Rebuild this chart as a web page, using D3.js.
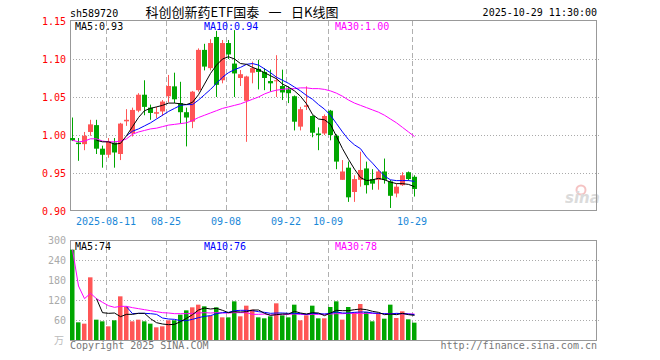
<!DOCTYPE html>
<html><head><meta charset="utf-8">
<script src="https://cdn.jsdelivr.net/npm/d3@7/dist/d3.min.js"></script>
<style>body{margin:0;background:#fff}svg{display:block}</style>
</head><body><svg id="c" width="660" height="360"></svg>
<script>
const dates = ["2025-08-01","2025-08-04","2025-08-05","2025-08-06","2025-08-07","2025-08-08","2025-08-11","2025-08-12","2025-08-13","2025-08-14","2025-08-15","2025-08-18","2025-08-19","2025-08-20","2025-08-21","2025-08-22","2025-08-25","2025-08-26","2025-08-27","2025-08-28","2025-08-29","2025-09-01","2025-09-02","2025-09-03","2025-09-04","2025-09-05","2025-09-08","2025-09-09","2025-09-10","2025-09-11","2025-09-12","2025-09-15","2025-09-16","2025-09-17","2025-09-18","2025-09-19","2025-09-22","2025-09-23","2025-09-24","2025-09-25","2025-09-26","2025-09-29","2025-09-30","2025-10-09","2025-10-10","2025-10-13","2025-10-14","2025-10-15","2025-10-16","2025-10-17","2025-10-20","2025-10-21","2025-10-22","2025-10-23","2025-10-24","2025-10-27","2025-10-28","2025-10-29"];
const open = [0.996,0.990,0.988,1.004,1.013,0.982,0.974,0.990,0.975,1.018,
 1.002,1.032,1.053,1.036,1.028,1.031,1.051,1.064,1.042,1.030,
 1.0175,1.059,1.112,1.088,1.129,1.072,1.121,1.094,1.075,1.045,
 1.082,1.087,1.083,1.071,1.071,1.0645,1.060,1.051,1.011,1.037,
 1.025,1.002,1.002,1.032,0.999,0.941,0.957,0.925,0.941,0.956,
 0.942,0.941,0.952,0.939,0.923,0.934,0.951,0.945];
const close = [0.993,0.988,0.999,1.014,0.982,0.974,0.992,0.977,1.015,1.020,
 1.033,1.053,1.037,1.029,1.030,1.044,1.0645,1.047,1.030,1.023,
 1.057,1.112,1.090,1.121,1.066,1.121,1.106,1.081,1.080,1.077,
 1.088,1.083,1.075,1.068,1.072,1.056,1.055,1.0175,1.034,1.039,
 1.003,1.000,1.025,1.000,0.965,0.952,0.918,0.942,0.954,0.934,
 0.936,0.952,0.941,0.920,0.932,0.947,0.942,0.929];
const high = [1.023,0.996,1.004,1.020,1.020,0.986,0.996,0.996,1.016,1.034,
 1.036,1.055,1.072,1.040,1.037,1.046,1.079,1.082,1.070,1.036,
 1.058,1.114,1.120,1.126,1.137,1.125,1.125,1.138,1.0855,1.078,
 1.0965,1.099,1.088,1.086,1.105,1.086,1.064,1.052,1.037,1.064,
 1.026,1.010,1.027,1.033,1.001,0.967,0.965,0.947,0.978,0.965,
 0.955,0.954,0.969,0.941,0.936,0.951,0.952,0.947];
const low = [0.992,0.966,0.980,0.999,0.975,0.957,0.970,0.957,0.967,1.012,
 0.998,1.030,1.026,1.020,1.022,1.025,1.043,1.042,1.015,0.985,
 1.009,1.057,1.085,1.085,1.050,1.068,1.100,1.050,1.0645,0.991,
 1.068,1.060,1.059,1.057,1.050,1.046,1.042,1.006,1.006,1.033,
 0.997,0.980,1.000,0.993,0.955,0.941,0.912,0.912,0.932,0.923,
 0.928,0.928,0.936,0.904,0.918,0.933,0.940,0.919];
const ma5 = [null,null,null,null,0.993,0.991,0.991,0.988,0.989,0.999,
 1.011,1.023,1.032,1.035,1.037,1.039,1.042,1.042,1.041,1.040,
 1.043,1.053,1.067,1.081,1.092,1.100,1.103,1.100,1.094,1.093,
 1.089,1.086,1.082,1.078,1.074,1.067,1.063,1.058,1.051,1.041,
 1.027,1.021,1.020,1.014,0.998,0.982,0.968,0.955,0.944,0.940,
 0.941,0.943,0.941,0.938,0.936,0.936,0.935,0.932];
const ma10 = [null,null,null,null,null,null,null,null,null,0.999,
 1.005,1.008,1.012,1.016,1.021,1.026,1.031,1.035,1.039,1.040,
 1.040,1.046,1.053,1.060,1.068,1.076,1.082,1.086,1.089,1.093,
 1.094,1.092,1.087,1.082,1.076,1.072,1.068,1.063,1.058,1.052,
 1.047,1.040,1.034,1.026,1.015,1.004,0.994,0.987,0.982,0.971,
 0.963,0.954,0.946,0.941,0.940,0.940,0.940,0.939];
const ma30 = [0.993,0.991,0.992,0.995,0.995,0.992,0.991,0.991,0.992,0.995,
 1.001,1.004,1.006,1.008,1.009,1.011,1.013,1.014,1.015,1.016,
 1.019,1.023,1.026,1.029,1.032,1.035,1.037,1.039,1.041,1.044,
 1.047,1.050,1.054,1.057,1.059,1.060,1.061,1.061,1.062,1.062,
 1.061,1.061,1.060,1.058,1.055,1.051,1.046,1.042,1.039,1.036,
 1.033,1.030,1.026,1.021,1.016,1.010,1.004,0.998];
const volume = [271,53,49,188,61,56,41,59,131,99,
 56,61,56,49,38,41,59,59,76,89,
 98,106,101,73,98,68,68,116,71,103,
 91,68,65,71,110,74,68,106,59,74,
 103,65,65,99,116,61,99,83,108,84,
 56,81,64,106,66,86,62,52];
const volMa5 = [null,null,null,null,124,82,80,81,70,77,
 77,80,80,64,52,48,46,47,55,65,
 76,90,96,93,95,89,82,85,84,85,
 90,90,80,74,76,78,78,86,81,78,
 82,81,73,81,89,88,88,91,93,91,
 86,83,76,78,76,80,76,74];
const volMa10 = [null,null,null,null,null,null,null,null,null,100,
 79,80,80,79,77,66,63,62,58,58,
 62,67,71,73,79,82,83,88,89,89,
 88,85,83,80,81,81,80,80,79,77,
 80,79,78,80,84,81,81,83,84,84,
 81,80,79,78,80,79,78,76];
const volMa30 = [271,162,124,140,124,113,103,98,101,101,
 97,94,91,88,85,82,81,79,79,79,
 80,81,82,81,82,81,81,82,82,82,
 77,77,78,75,76,76,77,78,77,76,
 77,77,77,78,79,79,80,80,80,80,
 80,79,79,79,79,79,78,78];
const priceTicks = [0.90,0.95,1.00,1.05,1.10,1.15];
const volTicks = [60,120,180,240,300];
const dateTicks = ["2025-08-11","2025-08-25","2025-09-08","2025-09-22","2025-10-09","2025-10-29"];
const dateLabels = ["2025-08-11","08-25","09-08","09-22","10-09","10-29"];

const svg = d3.select("#c");
const L = 70, R = 597, pT = 21, pB = 211, vT = 240, vB = 340;
const mono = "'DejaVu Sans Mono', monospace";
const RED = "#ff5656", GREEN = "#00a600";

const x = d3.scalePoint().domain(dates).range([72.5, 72.5 + 6 * (dates.length - 1)]);
const y = d3.scaleLinear().domain([0.90, 1.15]).range([pB, pT]);
const yv = d3.scaleLinear().domain([0, 300]).range([vB, vT]);

// header texts
svg.append("text").attr("x", L).attr("y", 17).attr("font-family", mono).attr("font-size", 10).attr("fill", "#000").text("sh589720");
svg.append("text").attr("x", 242).attr("y", 17).attr("text-anchor", "middle").style("white-space", "pre")
  .attr("font-family", "'Noto Sans CJK SC', sans-serif").attr("font-size", 13).attr("fill", "#000")
  .text("科创创新药ETF国泰\u2002 一\u2002 日K线图");
svg.append("text").attr("x", R).attr("y", 16).attr("text-anchor", "end").attr("font-family", mono).attr("font-size", 10).attr("fill", "#000").text("2025-10-29 11:30:00");

// grids
const gGrid = svg.append("g");
priceTicks.filter(t => t > 0.9 && t < 1.15).forEach(t => {
  const yy = Math.round(y(t)) + 0.5;
  gGrid.append("line").attr("x1", L).attr("x2", R + 2).attr("y1", yy).attr("y2", yy)
    .attr("stroke", "#aaa").attr("stroke-dasharray", "1,2");
});
volTicks.filter(t => t < 300).forEach(t => {
  const yy = Math.round(yv(t)) + 0.5;
  gGrid.append("line").attr("x1", L).attr("x2", R + 2).attr("y1", yy).attr("y2", yy)
    .attr("stroke", "#aaa").attr("stroke-dasharray", "1,2");
});
dateTicks.forEach(d => {
  const xx = Math.round(x(d) - 2.5) + 0.5;
  gGrid.append("line").attr("x1", xx).attr("x2", xx).attr("y1", pT).attr("y2", pB)
    .attr("stroke", "#b0b0b0").attr("stroke-dasharray", "5,3");
  gGrid.append("line").attr("x1", xx).attr("x2", xx).attr("y1", vT).attr("y2", vB)
    .attr("stroke", "#b0b0b0").attr("stroke-dasharray", "5,3");
});

// watermark
const wm = svg.append("g").attr("opacity", 0.75);
wm.append("circle").attr("cx", 581).attr("cy", 190).attr("r", 4.5).attr("fill", "none").attr("stroke", "#f2b0b0").attr("stroke-width", 2);
wm.append("text").attr("x", 565).attr("y", 203).attr("font-family", "'DejaVu Sans', sans-serif").attr("font-weight", "bold").attr("font-style", "italic").attr("font-size", 15).attr("fill", "#cfcfcf").text("sina");

// frames
svg.append("rect").attr("x", L + 0.5).attr("y", pT - 0.5).attr("width", R - L - 1).attr("height", pB - pT)
  .attr("fill", "none").attr("stroke", "#999");
svg.append("rect").attr("x", L + 0.5).attr("y", vT + 0.5).attr("width", R - L - 1).attr("height", vB - vT)
  .attr("fill", "none").attr("stroke", "#999");

// axis labels
priceTicks.forEach(t => {
  svg.append("text").attr("x", 66).attr("y", y(t) + 4).attr("text-anchor", "end")
    .attr("font-family", mono).attr("font-size", 10).attr("fill", "#f00").text(t.toFixed(2));
});
volTicks.forEach(t => {
  svg.append("text").attr("x", 66).attr("y", yv(t) + 4).attr("text-anchor", "end")
    .attr("font-family", mono).attr("font-size", 10).attr("fill", "#aaa").text(t);
});
svg.append("text").attr("x", 64).attr("y", 344).attr("text-anchor", "end")
  .attr("font-family", "'Noto Sans CJK SC', sans-serif").attr("font-size", 10).attr("fill", "#bbb").text("万");
dateTicks.forEach((d, k) => {
  svg.append("text").attr("x", x(d) - 2.5).attr("y", 225).attr("text-anchor", "middle")
    .attr("font-family", mono).attr("font-size", 10).attr("fill", "#1a88d8").text(dateLabels[k]);
});

// candles + volume bars
const gC = svg.append("g");
dates.forEach((d, i) => {
  const up = close[i] >= open[i];
  const col = up ? RED : GREEN;
  const cx = x(d);
  gC.append("line").attr("x1", cx).attr("x2", cx).attr("y1", y(high[i])).attr("y2", y(low[i]))
    .attr("stroke", col).attr("stroke-width", 1);
  const top = y(Math.max(open[i], close[i]));
  const h = Math.max(1, Math.abs(y(open[i]) - y(close[i])));
  gC.append("rect").attr("x", cx - 2.5).attr("y", top).attr("width", 5).attr("height", h).attr("fill", col);
  gC.append("rect").attr("x", cx - 2.5).attr("y", yv(volume[i])).attr("width", 4.5)
    .attr("height", vB - yv(volume[i])).attr("fill", col);
});

// MA lines
function drawLine(arr, ys, color) {
  const line = d3.line().defined(d => d != null).x((d, i) => x(dates[i])).y(d => ys(d));
  svg.append("path").datum(arr).attr("d", line).attr("fill", "none").attr("stroke", color).attr("stroke-width", 1);
}
drawLine(ma30, y, "#ff00ff");
drawLine(ma10, y, "#0000ff");
drawLine(ma5, y, "#000");
drawLine(volMa30, yv, "#ff00ff");
drawLine(volMa10, yv, "#0000ff");
drawLine(volMa5, yv, "#000");

// legends
function legend(xx, yy, txt, col) {
  svg.append("text").attr("x", xx).attr("y", yy).attr("font-family", mono).attr("font-size", 10).attr("fill", col).text(txt);
}
legend(75, 29.5, "MA5:0.93", "#000");
legend(204, 29.5, "MA10:0.94", "#0000ff");
legend(335, 29.5, "MA30:1.00", "#ff00ff");
legend(75, 250, "MA5:74", "#000");
legend(204, 250, "MA10:76", "#0000ff");
legend(335, 250, "MA30:78", "#ff00ff");

svg.append("text").attr("x", L).attr("y", 348.5).attr("font-family", mono).attr("font-size", 10).attr("fill", "#777").text("Copyright 2025 SINA.COM");
svg.append("text").attr("x", R).attr("y", 348.5).attr("text-anchor", "end").attr("font-family", mono).attr("font-size", 10).attr("fill", "#777").text("http://finance.sina.com.cn");
</script></body></html>
